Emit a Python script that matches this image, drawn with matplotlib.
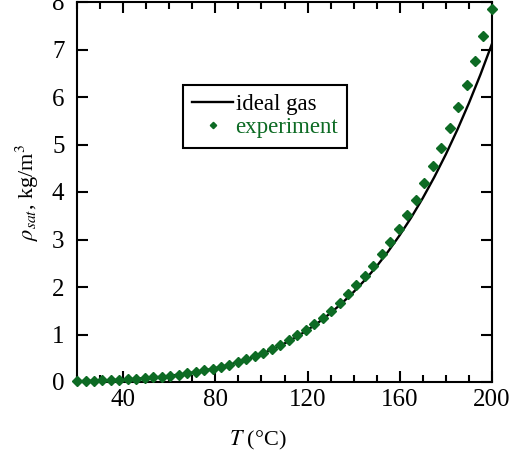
import matplotlib
matplotlib.use("Agg")
import matplotlib.pyplot as plt
from matplotlib.ticker import MultipleLocator

# ── data ──────────────────────────────────────────────────────────────────
# ideal-gas curve (kg/m^3) read at 5 °C steps
T_ideal = [20, 25, 30, 35, 40, 45, 50, 55, 60, 65, 70, 75, 80, 85, 90, 95,
           100, 105, 110, 115, 120, 125, 130, 135, 140, 145, 150, 155, 160,
           165, 170, 175, 180, 185, 190, 195, 200]
rho_ideal = [0.0173, 0.0230, 0.0304, 0.0396, 0.0511, 0.0654, 0.0828, 0.104,
             0.130, 0.161, 0.197, 0.240, 0.291, 0.350, 0.419, 0.498, 0.589,
             0.693, 0.811, 0.944, 1.095, 1.264, 1.453, 1.663, 1.896, 2.154,
             2.438, 2.751, 3.093, 3.466, 3.874, 4.316, 4.795, 5.314, 5.873,
             6.474, 7.121]

# experimental points
T_exp = [20.0, 23.7, 27.4, 31.0, 34.7, 38.4, 42.0, 45.7, 49.4, 53.1, 56.7,
         60.4, 64.1, 67.8, 71.4, 75.1, 78.8, 82.4, 86.1, 89.8, 93.5, 97.1,
         100.8, 104.5, 108.2, 111.8, 115.5, 119.2, 122.9, 126.5, 130.2, 133.9,
         137.6, 141.2, 144.9, 148.6, 152.2, 155.9, 159.6, 163.3, 166.9, 170.6,
         174.3, 178.0, 181.6, 185.3, 189.0, 192.7, 196.3, 200.0]
rho_exp = [0.017, 0.021, 0.027, 0.032, 0.039, 0.047, 0.057, 0.068, 0.081,
           0.096, 0.113, 0.133, 0.155, 0.181, 0.211, 0.243, 0.280, 0.323,
           0.368, 0.421, 0.479, 0.543, 0.614, 0.694, 0.782, 0.875, 0.981,
           1.095, 1.221, 1.355, 1.505, 1.668, 1.845, 2.032, 2.234, 2.451,
           2.692, 2.951, 3.226, 3.525, 3.840, 4.179, 4.543, 4.929, 5.342,
           5.784, 6.255, 6.764, 7.289, 7.852]

GREEN = "#0d6b24"

plt.rcParams["font.family"] = ["Liberation Serif", "DejaVu Serif"]
plt.rcParams["mathtext.fontset"] = "stix"

fig = plt.figure(figsize=(5.2, 4.57), dpi=100)
ax = fig.add_axes([77 / 520, 1 - 382 / 457, 415 / 520, 380 / 457])

ax.plot(T_ideal, rho_ideal, color="black", lw=1.7, label="ideal gas", zorder=2)
ax.plot(T_exp, rho_exp, ls="none", marker="D", ms=4.6, color=GREEN,
        mec=GREEN, label="experiment", zorder=3, clip_on=False)

ax.set_xlim(20, 200)
ax.set_ylim(0, 8)
ax.xaxis.set_minor_locator(MultipleLocator(10))
ax.yaxis.set_major_locator(MultipleLocator(1))
ax.set_xticks([40, 80, 120, 160, 200])

for spine in ax.spines.values():
    spine.set_linewidth(1.5)

ax.tick_params(which="both", direction="in", top=True, right=True,
               labelsize=18, width=1.5)
ax.tick_params(which="major", length=8, pad=5)
ax.tick_params(axis="y", which="major", pad=9)
ax.tick_params(which="minor", length=5)
ax.tick_params(axis="y", which="minor", left=False, right=False)

ax.set_xlabel(r"$T$ (°C)", fontsize=16)
ax.xaxis.set_label_coords(0.436, -0.124)
ax.set_ylabel(r"$\rho_{sat}$, kg/m$^3$", fontsize=16, labelpad=8)

leg = ax.legend(loc="upper left", bbox_to_anchor=(0.255, 0.782),
                fontsize=16.5, frameon=True, fancybox=False,
                edgecolor="black", framealpha=1, handlelength=1.8,
                handletextpad=0.1, borderpad=0.4, labelspacing=0.1,
                borderaxespad=0, markerscale=0.7)
leg.get_frame().set_linewidth(1.5)
leg.get_texts()[1].set_color(GREEN)

fig.savefig("out.png", dpi=100)
